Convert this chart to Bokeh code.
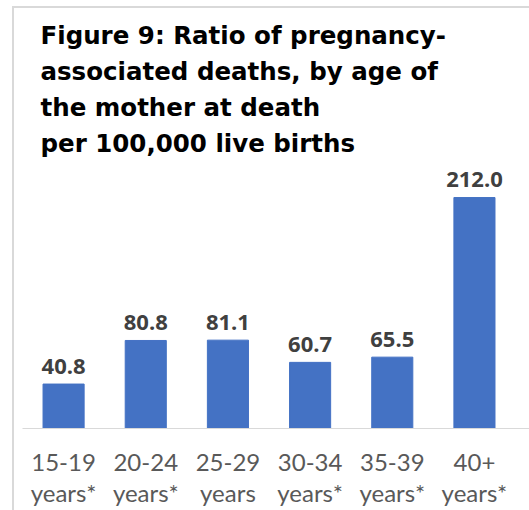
from bokeh.plotting import figure
from bokeh.models import ColumnDataSource, Range1d, Title, FixedTicker
from bokeh.layouts import column
from bokeh.core.properties import value
from bokeh.embed import file_html
from bokeh.resources import INLINE

categories = ["15-19\nyears*", "20-24\nyears*", "25-29\nyears", "30-34\nyears*", "35-39\nyears*", "40+\nyears*"]
ratios = [40.8, 80.8, 81.1, 60.7, 65.5, 212.0]
title_lines = [
    "Figure 9: Ratio of pregnancy-",
    "associated deaths, by age of",
    "the mother at death",
    "per 100,000 live births",
]

xs = list(range(len(categories)))
src = ColumnDataSource(dict(x=xs, y=ratios, lbl=[f"{v:.1f}" for v in ratios]))

p = figure(width=515, height=502, output_backend="svg", toolbar_location=None,
           x_range=Range1d(-0.5, 5.67), y_range=Range1d(0, 246),
           min_border_left=8, min_border_right=0, min_border_bottom=0, min_border_top=0)

for i, line in enumerate(reversed(title_lines)):
    t = Title(text=line, align="left", offset=18, text_font="DejaVu Sans",
              text_font_size="24.5px", text_font_style="bold", text_color="#000000",
              standoff=5)
    p.add_layout(t, "above")
p.add_layout(Title(text=" ", text_font_size="5px", standoff=0), "above")

p.vbar(x="x", top="y", width=0.5, source=src, fill_color="#4472C4", line_color="#4472C4")
p.text(x="x", y="y", text="lbl", source=src, text_align="center", text_baseline="alphabetic",
       y_offset=-18, text_font=value("Open Sans"), text_font_style="bold",
       text_font_size="22px", text_color="#404040")

p.yaxis.visible = False
p.xgrid.visible = False
p.ygrid.visible = False
p.outline_line_color = None
p.xaxis.ticker = FixedTicker(ticks=xs)
p.xaxis.major_label_overrides = {i: c for i, c in enumerate(categories)}
p.xaxis.major_tick_line_color = None
p.xaxis.minor_tick_line_color = None
p.xaxis.axis_line_color = "#d9d9d9"
p.xaxis.major_label_text_font = "Lato"
p.xaxis.major_label_text_font_size = "24px"
p.xaxis.major_label_text_color = "#595959"
p.xaxis.major_label_text_line_height = 1.1
p.xaxis.major_label_standoff = 12

layout = column(p, margin=(6, 0, 0, 12),
                styles={"border-left": "2px solid #d9d9d9", "border-top": "2px solid #d9d9d9"})

open("out.html", "w").write(file_html(layout, INLINE))
